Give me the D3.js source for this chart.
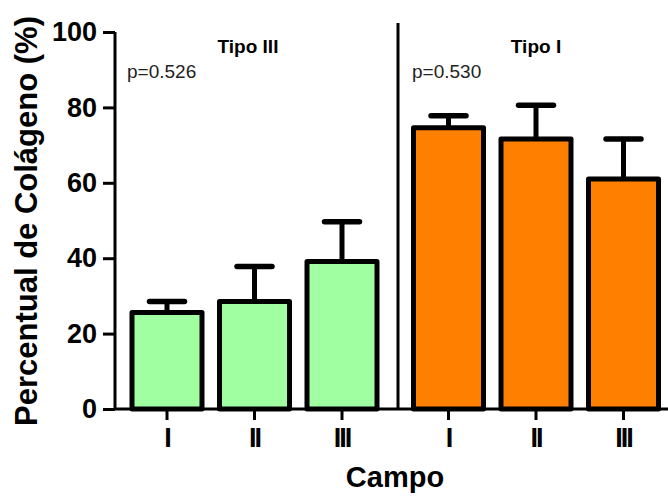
<!DOCTYPE html>
<html>
<head>
<meta charset="utf-8">
<script src="https://cdn.jsdelivr.net/npm/d3@7"></script>
<style>
  body { margin: 0; background: #fff; }
  svg { display: block; font-family: Arial, "Liberation Sans", sans-serif; }
</style>
</head>
<body>
<svg width="668" height="497"></svg>
<script>
// data
const panels = ['Tipo III', 'Tipo I'];
const campos = ['I', 'II', 'III'];
const meanTipoIII = [25.6, 28.5, 39.1];
const errTipoIII = [2.9, 9.3, 10.6];
const meanTipoI = [74.6, 71.6, 61.0];
const errTipoI = [3.2, 9.0, 10.6];
const pValues = ['p=0.526', 'p=0.530'];
const colors = ['#a0ffa0', '#ff8000'];
const yTicks = [0, 20, 40, 60, 80, 100];

const bars = [];
[meanTipoIII, meanTipoI].forEach((means, p) => {
  const errs = p === 0 ? errTipoIII : errTipoI;
  means.forEach((m, i) => bars.push({
    panel: p, campo: campos[i], key: panels[p] + '-' + campos[i], mean: m, err: errs[i]
  }));
});

const svg = d3.select('svg');
const gap = 19;

const xScale = d3.scaleBand()
  .domain(bars.map(d => d.key))
  .range([114.5, 657])
  .paddingInner(0.2)
  .paddingOuter(0.2);

const xPos = d => xScale(d.key) + (d.panel === 1 ? gap : 0);

const yScale = d3.scaleLinear()
  .domain([0, 100])
  .range([409, 32]);

// y axis
const yAxis = svg.append('g')
  .attr('transform', 'translate(115,0)')
  .call(d3.axisLeft(yScale).tickValues(yTicks).tickSize(12).tickPadding(6));
yAxis.select('.domain').attr('d', `M0,${yScale(100)}V${yScale(0)}`).attr('stroke-width', 3);
yAxis.selectAll('.tick line').attr('stroke-width', 3);
yAxis.selectAll('.tick text')
  .attr('font-size', 27).attr('font-weight', 'bold').attr('fill', '#000')
  .attr('font-family', 'Arial, "Liberation Sans", sans-serif');

// x baseline
svg.append('line')
  .attr('x1', 115).attr('x2', 668)
  .attr('y1', yScale(0)).attr('y2', yScale(0))
  .attr('stroke', '#000').attr('stroke-width', 3);

// divider between panels
svg.append('line')
  .attr('x1', 398).attr('x2', 398)
  .attr('y1', 23).attr('y2', yScale(0))
  .attr('stroke', '#000').attr('stroke-width', 3);

const bw = xScale.bandwidth();

// error bars (upper only)
const eb = svg.append('g').selectAll('g')
  .data(bars).enter().append('g');
eb.append('line')
  .attr('x1', d => xPos(d) + bw / 2).attr('x2', d => xPos(d) + bw / 2)
  .attr('y1', d => yScale(d.mean)).attr('y2', d => yScale(d.mean + d.err))
  .attr('stroke', '#000').attr('stroke-width', 5);
eb.append('line')
  .attr('x1', d => xPos(d) + bw / 2 - 17.5).attr('x2', d => xPos(d) + bw / 2 + 17.5)
  .attr('y1', d => yScale(d.mean + d.err)).attr('y2', d => yScale(d.mean + d.err))
  .attr('stroke', '#000').attr('stroke-width', 5.5).attr('stroke-linecap', 'round');

// bars
svg.append('g').selectAll('rect')
  .data(bars).enter().append('rect')
  .attr('x', d => xPos(d))
  .attr('y', d => yScale(d.mean))
  .attr('width', bw)
  .attr('height', d => yScale(0) - yScale(d.mean))
  .attr('fill', d => colors[d.panel])
  .attr('stroke', '#000').attr('stroke-width', 5)
  .attr('stroke-linejoin', 'round');

// x ticks and labels
const xt = svg.append('g').selectAll('g')
  .data(bars).enter().append('g')
  .attr('transform', d => `translate(${xPos(d) + bw / 2},${yScale(0)})`);
xt.append('line').attr('y1', 0).attr('y2', 11).attr('stroke', '#000').attr('stroke-width', 3);
xt.append('text')
  .attr('y', 38)
  .attr('text-anchor', 'middle')
  .attr('font-size', 27).attr('font-weight', 'bold')
  .attr('letter-spacing', -2)
  .text(d => d.campo);

// panel titles and p values
const panelTitleX = [248, 536];
const pX = [127, 412];
panels.forEach((p, i) => {
  svg.append('text')
    .attr('x', panelTitleX[i]).attr('y', 53)
    .attr('text-anchor', 'middle')
    .attr('font-size', 19).attr('font-weight', 'bold')
    .text(p);
  svg.append('text')
    .attr('x', pX[i]).attr('y', 78)
    .attr('font-size', 19).attr('fill', '#222')
    .text(pValues[i]);
});

// axis titles
svg.append('text')
  .attr('transform', 'translate(37,221) rotate(-90)')
  .attr('text-anchor', 'middle')
  .attr('font-size', 31).attr('font-weight', 'bold')
  .text('Percentual de Colágeno (%)');

svg.append('text')
  .attr('x', 395).attr('y', 487)
  .attr('text-anchor', 'middle')
  .attr('font-size', 29).attr('font-weight', 'bold')
  .text('Campo');
</script>
</body>
</html>
